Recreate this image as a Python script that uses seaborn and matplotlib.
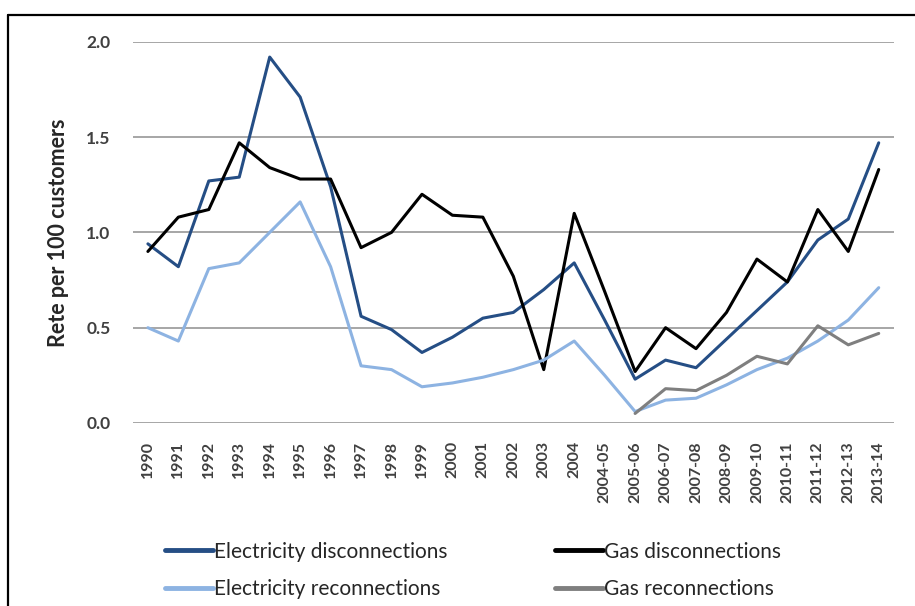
import numpy as np
import pandas as pd
import matplotlib
matplotlib.use("Agg")
import matplotlib.pyplot as plt
from matplotlib.lines import Line2D
import seaborn as sns

periods = ["1990", "1991", "1992", "1993", "1994", "1995", "1996", "1997", "1998", "1999",
           "2000", "2001", "2002", "2003", "2004", "2004-05", "2005-06", "2006-07", "2007-08",
           "2008-09", "2009-10", "2010-11", "2011-12", "2012-13", "2013-14"]

elec_disc = [0.94, 0.82, 1.27, 1.29, 1.92, 1.71, 1.24, 0.56, 0.49, 0.37,
             0.45, 0.55, 0.58, 0.70, 0.84, 0.54, 0.23, 0.33, 0.29, 0.44,
             0.59, 0.74, 0.96, 1.07, 1.47]
gas_disc = [0.90, 1.08, 1.12, 1.47, 1.34, 1.28, 1.28, 0.92, 1.00, 1.20,
            1.09, 1.08, 0.77, 0.28, 1.10, 0.69, 0.27, 0.50, 0.39, 0.58,
            0.86, 0.74, 1.12, 0.90, 1.33]
elec_reconn = [0.50, 0.43, 0.81, 0.84, 1.00, 1.16, 0.82, 0.30, 0.28, 0.19,
               0.21, 0.24, 0.28, 0.33, 0.43, 0.25, 0.06, 0.12, 0.13, 0.20,
               0.28, 0.34, 0.43, 0.54, 0.71]
gas_reconn = [np.nan] * 16 + [0.05, 0.18, 0.17, 0.25, 0.35, 0.31, 0.51, 0.41, 0.47]

series_names = ["Electricity disconnections", "Gas disconnections",
                "Electricity reconnections", "Gas reconnections"]
colors = ["#254E85", "#000000", "#8DB3E2", "#7F7F7F"]
y_ticks = [0.0, 0.5, 1.0, 1.5, 2.0]

sns.set_theme(style="white")
plt.rcParams["font.family"] = ["Lato", "DejaVu Sans"]

frames = []
for name, vals in zip(series_names, [elec_disc, gas_disc, elec_reconn, gas_reconn]):
    frames.append(pd.DataFrame({"pos": np.arange(len(periods)), "value": vals, "series": name}))
df = pd.concat(frames, ignore_index=True).dropna()

fig = plt.figure(figsize=(9.15, 6.06), dpi=100)
ax = fig.add_axes([0.145, 0.302, 0.832, 0.629])

sns.lineplot(data=df, x="pos", y="value", hue="series", hue_order=series_names,
             palette=dict(zip(series_names, colors)), linewidth=2.2, ax=ax,
             legend=False, sort=False)

ax.set_xlim(-0.5, len(periods) - 0.5)
ax.set_ylim(0, 2.0)
ax.set_yticks(y_ticks)
ax.set_yticklabels([f"{t:.1f}" for t in y_ticks], fontsize=12.5, fontweight="bold", color="#404040")
ax.set_xticks(np.arange(len(periods)))
ax.set_xticklabels(periods, rotation=90, fontsize=11.5, fontweight="bold", color="#404040")
ax.tick_params(axis="y", length=0, pad=16)
ax.tick_params(axis="x", length=0, pad=13)
ax.set_xlabel("")
ax.set_ylabel("Rete per 100 customers", fontsize=15.5, fontweight="bold", color="#262626", labelpad=12)
for s in ax.spines.values():
    s.set_visible(False)
ax.yaxis.grid(True, color="#A6A6A6", linewidth=1.4)
ax.set_axisbelow(True)

handles = [Line2D([0], [0], color=colors[i], lw=3.5) for i in [0, 2, 1, 3]]
labels = [series_names[i] for i in [0, 2, 1, 3]]
fig.legend(handles, labels, ncol=2, loc="center", bbox_to_anchor=(0.517, 0.0586),
           frameon=False, fontsize=15, handlelength=2.3, handletextpad=0.05,
           columnspacing=5.2, labelspacing=0.85, borderpad=0.2)

fy = 1 - 15 / 606
fx = 8 / 915
fig.add_artist(Line2D([fx, 1.0], [fy, fy], color="black", lw=1.6, transform=fig.transFigure))
fig.add_artist(Line2D([fx, fx], [0.0, fy], color="black", lw=1.6, transform=fig.transFigure))

fig.savefig("out.png", dpi=100)
